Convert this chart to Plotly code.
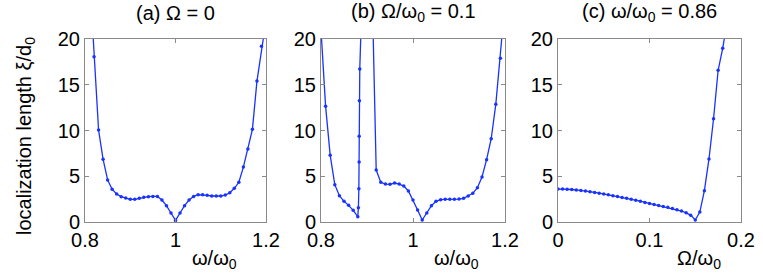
import plotly.graph_objects as go

# ---------------- data ----------------
# (a) Omega = 0
omega_a = [0.81, 0.82, 0.83, 0.84, 0.85, 0.86, 0.87, 0.88, 0.89, 0.90,
           0.91, 0.92, 0.93, 0.94, 0.95, 0.96, 0.97, 0.98, 0.99, 1.00,
           1.01, 1.02, 1.03, 1.04, 1.05, 1.06, 1.07, 1.08, 1.09, 1.10,
           1.11, 1.12, 1.13, 1.14, 1.15, 1.16, 1.17, 1.18, 1.19, 1.20]
xi_a = [27.0, 18.07, 10.05, 6.85, 4.6, 3.57, 3.06, 2.77, 2.62, 2.48,
        2.48, 2.59, 2.70, 2.77, 2.80, 2.80, 2.40, 1.78, 0.98, 0.17,
        0.98, 1.78, 2.40, 2.80, 2.98, 2.98, 2.92, 2.84, 2.84, 2.84,
        2.95, 3.20, 3.68, 4.34, 6.00, 7.98, 10.13, 15.4, 19.2, 22.0]

# (b) Omega/omega0 = 0.1
omega_b = [0.80, 0.81, 0.82, 0.83, 0.84, 0.85, 0.86, 0.87, 0.88,
           0.8813, 0.8823, 0.8829, 0.8830, 0.8834, 0.8843, 0.89, 0.90, 0.91,
           0.92, 0.93, 0.94, 0.95, 0.96, 0.97, 0.98, 0.99, 1.00,
           1.01, 1.02, 1.03, 1.04, 1.05, 1.06, 1.07, 1.08, 1.09, 1.10,
           1.11, 1.12, 1.13, 1.14, 1.15, 1.16, 1.17, 1.18, 1.19, 1.20]
xi_b = [21.0, 12.64, 7.29, 4.08, 2.88, 2.26, 1.82, 1.28, 0.58,
        1.57, 3.64, 6.56, 9.36, 13.26, 16.72, 26.0, 40.0, 28.0,
        5.68, 4.34, 4.15, 4.12, 4.26, 4.15, 3.93, 3.39, 2.40,
        1.31, 0.22, 0.98, 1.78, 2.26, 2.44, 2.48, 2.48, 2.48, 2.51,
        2.59, 2.84, 3.13, 3.75, 4.92, 6.81, 9.10, 12.86, 17.89, 24.0]

# (c) omega/omega0 = 0.86
Omega_c = [0.000, 0.005, 0.010, 0.015, 0.020, 0.025, 0.030, 0.035, 0.040,
           0.045, 0.050, 0.055, 0.060, 0.065, 0.070, 0.075, 0.080, 0.085,
           0.090, 0.095, 0.100, 0.105, 0.110, 0.115, 0.120, 0.125, 0.130,
           0.135, 0.140, 0.145, 0.150, 0.155, 0.160, 0.165, 0.170, 0.175,
           0.180, 0.185]
xi_c = [3.60, 3.60, 3.59, 3.55, 3.50, 3.45, 3.38, 3.31, 3.23,
        3.15, 3.06, 2.97, 2.88, 2.79, 2.69, 2.59, 2.49, 2.38,
        2.27, 2.14, 2.02, 1.90, 1.80, 1.70, 1.60, 1.48, 1.35,
        1.20, 1.00, 0.75, 0.22, 1.09, 3.42, 6.89, 11.29, 16.58,
        18.98, 22.0]

titles = ["(a) \u03a9 = 0", "(b) \u03a9/\u03c9<sub>0</sub> = 0.1", "(c) \u03c9/\u03c9<sub>0</sub> = 0.86"]
xlabels = ["\u03c9/\u03c9<sub>0</sub>", "\u03c9/\u03c9<sub>0</sub>", "\u03a9/\u03c9<sub>0</sub>"]
ylabel = "localization length \u03be/d<sub>0</sub>"
xtick_vals = [[0.8, 1.0, 1.2], [0.8, 1.0, 1.2], [0.0, 0.1, 0.2]]
xtick_text = [["0.8", "1", "1.2"], ["0.8", "1", "1.2"], ["0", "0.1", "0.2"]]
xranges = [[0.8, 1.2], [0.8, 1.2], [0.0, 0.2]]
ytick_vals = [0, 5, 10, 15, 20]

# ---------------- layout geometry (pixels from top-left) ----------------
W, H = 763, 279
panels_px = [(85, 266), (321, 505), (558, 741)]
y_top, y_bot = 39, 222
xlabel_left = [190, 432, 675]
LINE = "rgb(25,50,255)"
FONT = "Liberation Sans, Arial, Helvetica, sans-serif"
FS = 20

fig = go.Figure()
series = [(omega_a, xi_a), (omega_b, xi_b), (Omega_c, xi_c)]
for i, (xs, ys) in enumerate(series):
    ax = "" if i == 0 else str(i + 1)
    fig.add_trace(go.Scatter(
        x=xs, y=ys, mode="lines+markers",
        line=dict(color=LINE, width=1.3),
        marker=dict(color=LINE, size=3.5),
        xaxis="x" + ax, yaxis="y" + ax, showlegend=False,
        hoverinfo="skip"))

layout = dict(
    width=W, height=H,
    margin=dict(l=0, r=0, t=0, b=0, pad=0, autoexpand=False),
    paper_bgcolor="white", plot_bgcolor="white",
    font=dict(family=FONT, size=FS, color="black"),
    showlegend=False,
)
ydom = [1 - y_bot / H, 1 - y_top / H]
axis_common = dict(
    showline=True, linecolor="#8a8a8a", linewidth=1, mirror="ticks",
    ticks="inside", ticklen=4, tickcolor="#8a8a8a", tickwidth=1,
    showgrid=False, zeroline=False, automargin=False,
    tickfont=dict(family=FONT, size=FS, color="black"),
)
annotations = []
for i in range(3):
    ax = "" if i == 0 else str(i + 1)
    x0, x1 = panels_px[i]
    layout["xaxis" + ax] = dict(
        axis_common, domain=[x0 / W, x1 / W], range=xranges[i],
        tickvals=xtick_vals[i], ticktext=xtick_text[i],
        anchor="y" + ax)
    layout["yaxis" + ax] = dict(
        axis_common, domain=ydom, range=[0, 20], tickvals=ytick_vals,
        anchor="x" + ax)
    annotations.append(dict(
        text=titles[i], x=(x0 + x1) / 2 / W, y=1 - 13 / H,
        xref="paper", yref="paper", xanchor="center", yanchor="middle",
        showarrow=False, font=dict(family=FONT, size=FS, color="black")))
    annotations.append(dict(
        text=xlabels[i], x=xlabel_left[i] / W, y=1 - 259 / H,
        xref="paper", yref="paper", xanchor="left", yanchor="middle",
        showarrow=False, font=dict(family=FONT, size=FS, color="black")))

annotations.append(dict(
    text=ylabel, x=26 / W, y=1 - 136 / H, xref="paper", yref="paper",
    xanchor="center", yanchor="middle", textangle=-90, showarrow=False,
    font=dict(family=FONT, size=FS, color="black")))
layout["annotations"] = annotations

fig.update_layout(**layout)
fig.write_html("out.html",
               config={"displayModeBar": False, "staticPlot": True},
               post_script="document.body.style.margin='0';document.body.style.overflow='hidden';")
